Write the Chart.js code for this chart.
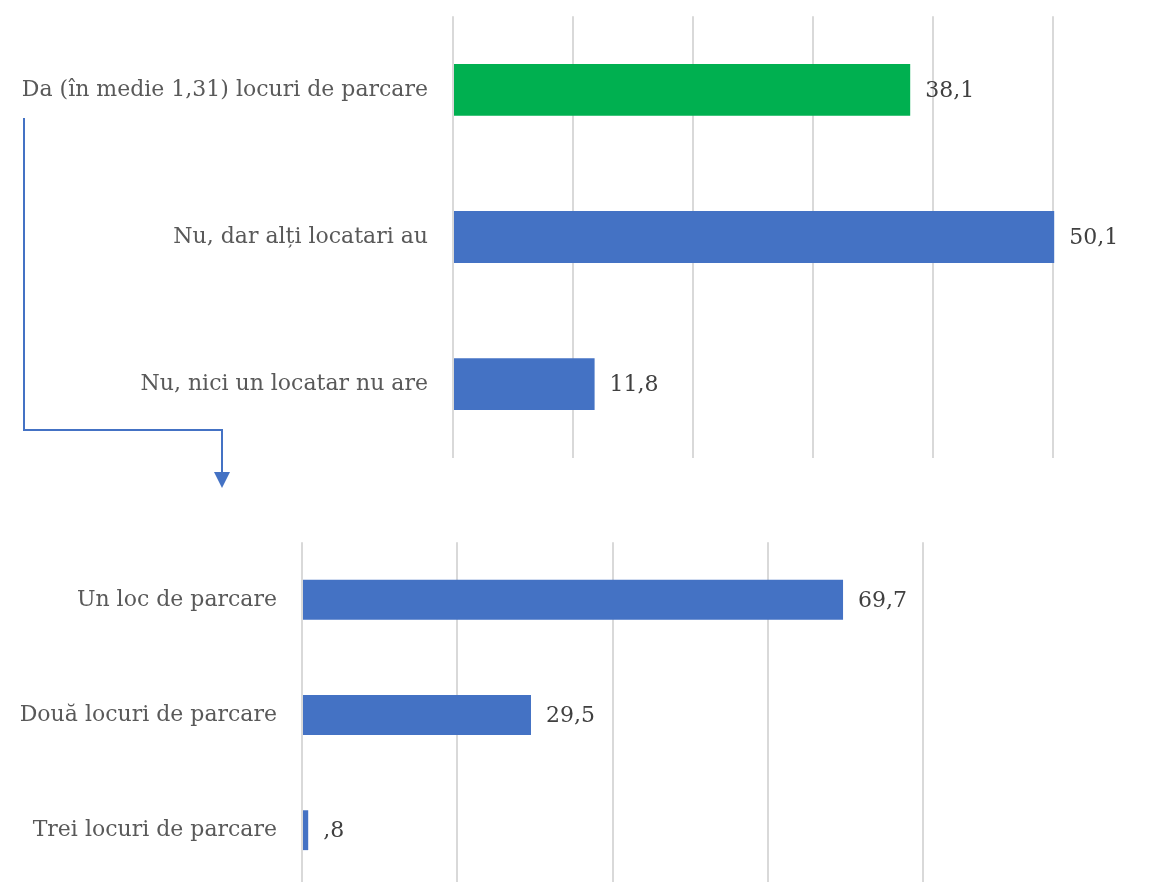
<!DOCTYPE html>
<html>
<head>
<meta charset="utf-8">
<script src="https://cdn.jsdelivr.net/npm/chart.js@4"></script>
<style>
html,body{margin:0;padding:0;background:#fff;overflow:hidden;width:1159px;height:882px;}
#top{position:absolute;left:0;top:-22px;width:1159px;height:518px;}
#bot{position:absolute;left:0;top:504px;width:1159px;height:422px;}
#arrow{position:absolute;left:0;top:0;width:1159px;height:882px;pointer-events:none;}
</style>
</head>
<body>
<div id="top"><canvas id="c1"></canvas></div>
<div id="bot"><canvas id="c2"></canvas></div>
<svg id="arrow" width="1159" height="882">
  <polyline points="24,118 24,430 222,430 222,474" fill="none" stroke="#4472C4" stroke-width="2"/>
  <polygon points="214,472 230,472 222,488" fill="#4472C4"/>
</svg>
<script>
const topCategories = ["Da (în medie 1,31) locuri de parcare", "Nu, dar alți locatari au", "Nu, nici un locatar nu are"];
const topValues = [38.1, 50.1, 11.8];
const topColors = ["#00B050", "#4472C4", "#4472C4"];

const botCategories = ["Un loc de parcare", "Două locuri de parcare", "Trei locuri de parcare"];
const botValues = [69.7, 29.5, 0.8];
const botColors = ["#4472C4", "#4472C4", "#4472C4"];

const FONT = "'DejaVu Serif', 'Liberation Serif', serif";
const TEXT = "#595959";
const FS = 22;

function fmt(v){ return v.toFixed(1).replace('.', ',').replace(/^0,/, ','); }

const valueLabels = {
  id: 'valueLabels',
  afterDatasetsDraw(chart){
    const ctx = chart.ctx;
    const meta = chart.getDatasetMeta(0);
    ctx.save();
    ctx.font = FS + "px " + FONT;
    ctx.fillStyle = "#404040";
    ctx.textAlign = "left";
    ctx.textBaseline = "middle";
    meta.data.forEach((bar, i) => {
      ctx.fillText(fmt(chart.data.datasets[0].data[i]), bar.x + 15, bar.y + 1);
    });
    ctx.restore();
  }
};

function makeChart(id, cats, vals, colors, max, axisWidth, pad, pct){
  return new Chart(document.getElementById(id), {
    type: 'bar',
    data: { labels: cats, datasets: [{ data: vals, backgroundColor: colors, barPercentage: pct, categoryPercentage: 1, clip: false }] },
    plugins: [valueLabels],
    options: {
      indexAxis: 'y',
      responsive: true,
      maintainAspectRatio: false,
      animation: false,
      layout: { padding: pad },
      plugins: { legend: { display: false }, tooltip: { enabled: false } },
      scales: {
        x: {
          min: 0, max: max,
          ticks: { display: false, stepSize: max === 50 ? 10 : 20 },
          grid: { color: "#d9d9d9", lineWidth: 2, drawTicks: false },
          border: { display: false }
        },
        y: {
          ticks: { color: TEXT, font: { family: FONT, size: FS }, padding: 25 },
          grid: { display: false, drawTicks: false },
          border: { display: false },
          afterFit(scale){ scale.width = axisWidth; }
        }
      }
    }
  });
}

makeChart('c1', topCategories, topValues, topColors, 50, 453, { top: 15, bottom: 12, right: 106, left: 0 }, 0.352);
makeChart('c2', botCategories, botValues, botColors, 80, 302, { top: 16, bottom: 7, right: 236, left: 0 }, 0.346);
</script>
</body>
</html>
